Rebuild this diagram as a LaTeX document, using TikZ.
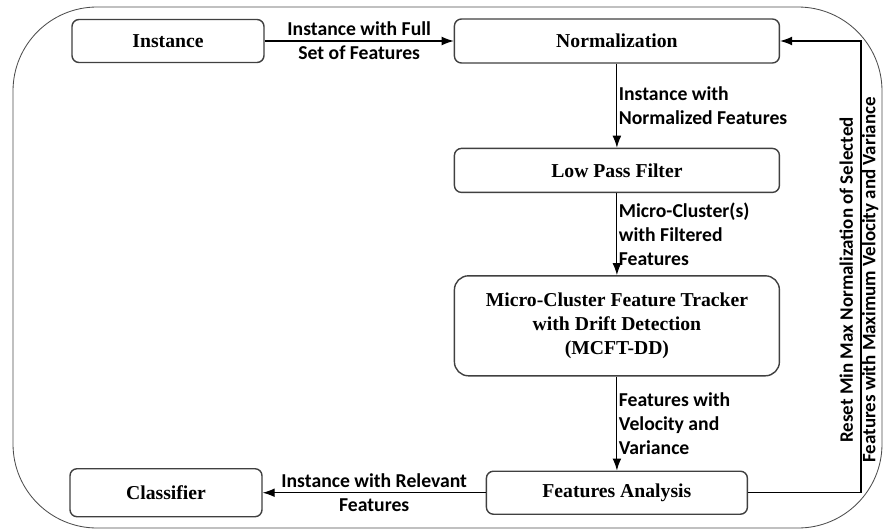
\documentclass[tikz,border=0pt]{standalone}
\usepackage{fontspec}
\setmainfont{Liberation Serif}
\newfontfamily\lblfont{Carlito}
\usetikzlibrary{positioning,arrows.meta}

\begin{document}
\begin{tikzpicture}[
    node distance=2.1cm and 4.725cm, % Vertical and Horizontal spacing
    >={Latex[length=3mm,width=2.2mm]}, line width=0.8pt,
    block/.style={
        rectangle, draw=black!75, rounded corners=5pt, fill=white,
        align=center, minimum height=1.1cm, minimum width=8.125cm,
        font=\fontsize{14}{17}\selectfont\bfseries, line width=1pt
    },
    % Group styles for the different boxes
    side/.style={block, minimum width=4.8cm, minimum height=1.075cm},
    tracker/.style={block, minimum height=2.5cm, rounded corners=10pt},
    lbl/.style={font=\lblfont\fontsize{14}{17}\selectfont\bfseries, align=left, inner sep=1pt},
    flow/.style={->, line width=0.8pt}
]
    \useasboundingbox (0,0) rectangle (22.075,-13.275);

    % --- Outer frame ---
    \draw[draw=black!70, line width=0.6pt, rounded corners=2.1cm] (0.325,-0.175) rectangle (22.05,-13.2);

    % --- Top row ---
    \node[side] (Instance) at (4.2,-1.025) {Instance};
    \node[block] (Norm) [right=4.725cm of Instance] {Normalization};

    % --- Main column ---
    \node[block] (LPF) [below=2.1cm of Norm] {Low Pass Filter};
    \node[tracker] (MCFT) [below=2.05cm of LPF] {Micro-Cluster Feature Tracker\\with Drift Detection\\(MCFT-DD)};
    \node[block, minimum width=6.525cm, minimum height=1.075cm] (FA) [below=2.35cm of MCFT] {Features Analysis};

    % --- Bottom row ---
    \node[side, minimum height=1.2cm] (Classifier) [left=5.575cm of FA] {Classifier};

    % feedback loop runs down the right side
    \coordinate (Loop) at (21.525,0);

    % --- EDGES (Arrows) ---
    \draw[flow] (Instance) -- node[lbl, align=center] {Instance with Full\\Set of Features} (Norm);
    \draw[flow] (Norm) -- node[lbl, right] {Instance with\\Normalized Features} (LPF);
    \draw[flow] (LPF) -- node[lbl, right] {Micro-Cluster(s)\\with Filtered\\Features} (MCFT);
    \draw[flow] (MCFT) -- node[lbl, right] {Features with\\Velocity and\\Variance} (FA);
    \draw[flow] (FA) -- node[lbl, align=center] {Instance with Relevant\\Features} (Classifier);

    % Feedback to normalization
    \draw[flow] (FA.east) -- (FA.east -| Loop) |- (Norm.east);
    \node[lbl, rotate=90, align=center, inner sep=0pt, anchor=south,
          font=\lblfont\fontsize{13.5}{16}\selectfont\bfseries] (ResetLbl) at (21.97,-7.0)
        {Reset Min Max Normalization of Selected\\Features with Maximum Velocity and Variance};

\end{tikzpicture}
\end{document}
